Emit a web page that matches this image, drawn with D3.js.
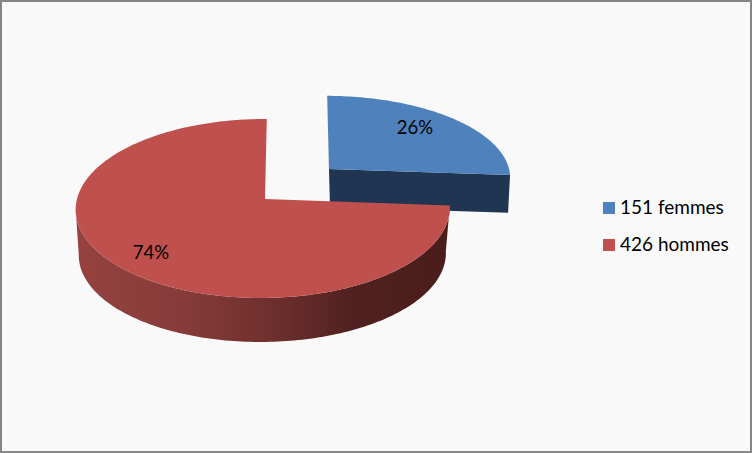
<!DOCTYPE html>
<html><head><meta charset="utf-8">
<style>html,body{margin:0;padding:0;background:#f9f9f9}svg{display:block}</style>
<script src="https://cdn.jsdelivr.net/npm/d3@7/dist/d3.min.js"></script>
</head><body><svg id="c" width="752" height="453"></svg>
<script>
const categories = ["151 femmes", "426 hommes"];
const values = [151, 426];
const pctLabels = ["26%", "74%"];
const topColors = ["#4f81bd", "#c0504d"];
const W = 752, H = 453;
const svg = d3.select("#c");
const defs = svg.append("defs");
const grad = defs.append("linearGradient").attr("id","redWall").attr("gradientUnits","userSpaceOnUse")
  .attr("x1",76).attr("x2",450).attr("y1",0).attr("y2",0);
[[0,"#96423f"],[0.3,"#853b38"],[0.55,"#6b2e2c"],[0.75,"#4f201e"],[1,"#4a1d1b"]].forEach(s=>grad.append("stop").attr("offset",s[0]).attr("stop-color",s[1]));

svg.append("rect").attr("x",1).attr("y",1).attr("width",W-2).attr("height",H-2)
  .attr("fill","#f9f9f9").attr("stroke","#868686").attr("stroke-width",2);

const pie = d3.pie().sort(null).value(d=>d);
const arcs = pie(values);

// Perspective mapping of a unit disc to the screen
function proj(o){
  return t=>{
    const X=Math.sin(t), Y=Math.cos(t);
    const w=1+o.k*Y+o.m*X;
    return [o.x+(o.b*X+o.c*Y)/w, o.y-o.a*Y/w];
  };
}
const apex = o=>[o.x,o.y];
const views = [
 {top:{x:329,y:169,a:80.5,b:182,c:-2,k:.1,m:.0107}, low:{x:330,y:207,a:80,b:179,c:-2,k:.1,m:.0107}},
 {top:{x:265,y:199,a:88.5,b:186,c:2,k:.106,m:.0107}, low:{x:264.5,y:245,a:86.7,b:182.5,c:2,k:.106,m:.0107}}
];
const line = d3.line();
const sample=(a,b)=>{const n=Math.max(2,Math.round(Math.abs(b-a)/0.02));return d3.range(n+1).map(i=>a+(b-a)*i/n);};

// blue slice
(function(){
  const a=arcs[0], v=views[0], T=proj(v.top), L=proj(v.low);
  const wall=[T(a.startAngle),apex(v.top),apex(v.low),T(a.startAngle)];
  svg.append("path").attr("d",line(wall)+"Z").attr("fill","#1f3552");
  const face=[apex(v.top),T(a.endAngle),L(a.endAngle),apex(v.low)];
  svg.append("path").attr("d",line(face)+"Z").attr("fill","#1f3552");
  const top=[apex(v.top),...sample(a.startAngle,a.endAngle).map(T)];
  svg.append("path").attr("d",line(top)+"Z").attr("fill",topColors[0]);
})();
// red slice
(function(){
  const a=arcs[1], v=views[1], T=proj(v.top), L=proj(v.low);
  const rim=sample(a.startAngle,a.endAngle);
  const tLeft=d3.least(rim,t=>T(t)[0]);
  const ss=sample(a.startAngle,tLeft);
  const wall=[...ss.map(T),...ss.slice().reverse().map(L)];
  svg.append("path").attr("d",line(wall)+"Z").attr("fill","url(#redWall)");
  const top=[apex(v.top),...rim.map(T)];
  svg.append("path").attr("d",line(top)+"Z").attr("fill",topColors[1]);
})();

const font="Lato, 'Open Sans', sans-serif";
const labelX=[415,151], labelY=[134,259];
svg.selectAll("text.p").data(pctLabels).join("text").attr("class","p")
  .attr("x",(d,i)=>labelX[i]).attr("y",(d,i)=>labelY[i]).attr("text-anchor","middle")
  .attr("font-family",font).attr("font-size",18.5).attr("fill","#000").text(d=>d);

const ly=d3.scalePoint().domain(categories).range([208,245]);
const lg=svg.selectAll("g.l").data(categories).join("g").attr("class","l")
  .attr("transform",d=>`translate(603,${ly(d)})`);
lg.append("rect").attr("x",0).attr("y",-6).attr("width",12).attr("height",12).attr("fill",(d,i)=>topColors[i]);
lg.append("text").attr("x",17).attr("y",6).attr("font-family",font).attr("font-size",19).attr("fill","#000").text(d=>d);
</script></body></html>
